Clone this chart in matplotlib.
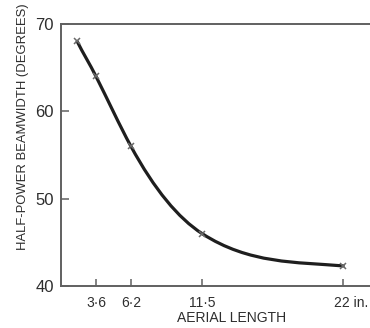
import numpy as np
import matplotlib
matplotlib.use("Agg")
import matplotlib.pyplot as plt
from matplotlib.path import Path
from matplotlib.patches import PathPatch
from matplotlib.transforms import ScaledTranslation

# Measured beamwidth against aerial length
aerial_length = [2.2, 3.6, 6.2, 11.5, 22.0]
beamwidth = [68.0, 64.0, 56.0, 46.0, 42.3]

x_ticks = [3.6, 6.2, 11.5, 22.0]
x_tick_labels = ["3·6", "6·2", "11·5", "22 in."]
y_ticks = [40, 50, 60, 70]
y_tick_labels = ["40", "50", "60", "70"]

plt.rcParams["font.family"] = ["Liberation Sans", "DejaVu Sans"]

ink = "#2e2e2e"
frame = "#606060"

fig = plt.figure(figsize=(3.7, 3.28), dpi=100)
ax = fig.add_axes([0.165, 0.128, 0.835, 0.799])
ax.set_xlim(1.0, 24.0)
ax.set_ylim(40, 70)


def spline_slopes(x, y):
    """First derivatives of a natural cubic spline through (x, y)."""
    x = np.asarray(x, float)
    y = np.asarray(y, float)
    n = len(x)
    h = np.diff(x)
    d = np.diff(y) / h
    A = np.zeros((n, n))
    b = np.zeros(n)
    A[0, 0], A[0, 1], b[0] = 2.0, 1.0, 3.0 * d[0]
    A[-1, -2], A[-1, -1], b[-1] = 1.0, 2.0, 3.0 * d[-1]
    for i in range(1, n - 1):
        A[i, i - 1] = h[i]
        A[i, i] = 2.0 * (h[i - 1] + h[i])
        A[i, i + 1] = h[i - 1]
        b[i] = 3.0 * (h[i] * d[i - 1] + h[i - 1] * d[i])
    return np.linalg.solve(A, b)


def hermite_path(x, y, m):
    """Exact Bezier form of the piecewise cubic Hermite curve."""
    verts = [(x[0], y[0])]
    codes = [Path.MOVETO]
    for i in range(len(x) - 1):
        h = x[i + 1] - x[i]
        verts += [(x[i] + h / 3, y[i] + m[i] * h / 3),
                  (x[i + 1] - h / 3, y[i + 1] - m[i + 1] * h / 3),
                  (x[i + 1], y[i + 1])]
        codes += [Path.CURVE4] * 3
    return Path(verts, codes)


# Tangents taken from a spline in log(length), where the samples are evenly spread
xs = np.asarray(aerial_length, float)
slopes = spline_slopes(np.log(xs), beamwidth) / xs

ax.add_patch(PathPatch(hermite_path(xs, beamwidth, slopes), fill=False,
                       edgecolor="#1e1e1e", linewidth=2.3, capstyle="round", zorder=3))
ax.plot(aerial_length, beamwidth, linestyle="none", marker="x", markersize=5,
        markeredgewidth=1.1, color="#6a6a6a", zorder=4, clip_on=False)

for side in ("left", "top", "bottom"):
    ax.spines[side].set_color(frame)
    ax.spines[side].set_linewidth(1.4)
ax.spines["right"].set_visible(False)

ax.set_xticks(x_ticks)
ax.set_xticklabels(x_tick_labels)
ax.set_yticks(y_ticks)
ax.set_yticklabels(y_tick_labels)
ax.tick_params(axis="x", direction="in", length=5, width=1.1, color=frame,
               labelsize=10, labelcolor=ink, pad=7)
ax.tick_params(axis="y", direction="in", length=6, width=1.1, color=frame,
               labelsize=12, labelcolor=ink, pad=5)

# The last x label carries the unit, so keep the number over its tick
last = ax.get_xticklabels()[-1]
last.set_horizontalalignment("left")
last.set_transform(last.get_transform() + ScaledTranslation(-9 / 100, 0, fig.dpi_scale_trans))

ax.set_xlabel("AERIAL LENGTH", fontsize=10, color=ink)
ax.xaxis.set_label_coords(0.553, -0.122)
ax.set_ylabel("HALF-POWER BEAMWIDTH (DEGREES)", fontsize=9.4, color=ink)
ax.yaxis.set_label_coords(-0.123, 0.607)
ax.yaxis.label.set_verticalalignment("center")
ax.xaxis.label.set_verticalalignment("center")

fig.savefig("out.png", dpi=100)
